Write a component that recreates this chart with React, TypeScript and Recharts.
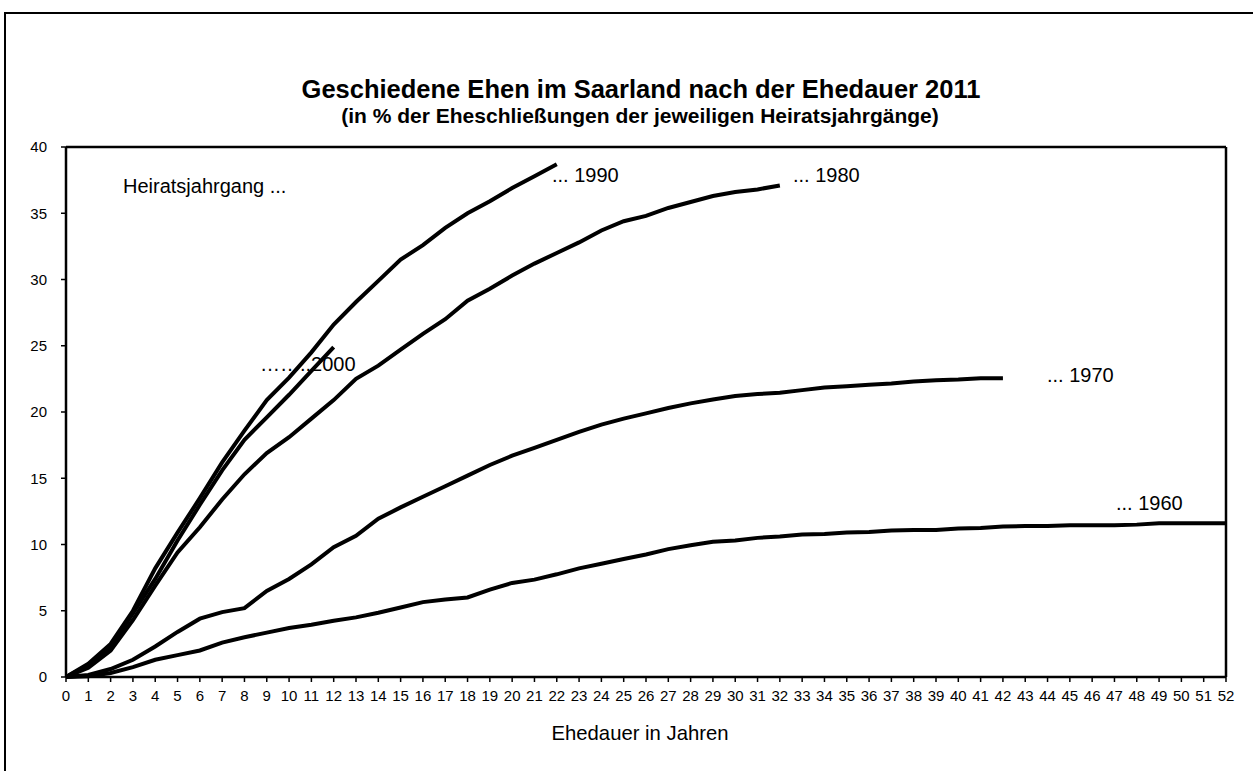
import React from 'react';
import { LineChart, Line, XAxis, YAxis, ReferenceLine } from 'recharts';

// Ehedauer in Jahren (x-Achse)
const durations = [
  0, 1, 2, 3, 4, 5, 6, 7, 8, 9, 10, 11, 12, 13, 14, 15, 16, 17, 18, 19, 20,
  21, 22, 23, 24, 25, 26, 27, 28, 29, 30, 31, 32, 33, 34, 35, 36, 37, 38, 39,
  40, 41, 42, 43, 44, 45, 46, 47, 48, 49, 50, 51, 52
];

// Geschiedene Ehen in % je Heiratsjahrgang
const cohort1960 = [
  0, 0.05, 0.3, 0.75, 1.3, 1.65, 2.0, 2.6, 3.0, 3.35,
  3.7, 3.95, 4.25, 4.5, 4.85, 5.25, 5.65, 5.85, 6.0, 6.6,
  7.1, 7.35, 7.75, 8.2, 8.55, 8.9, 9.25, 9.65, 9.95, 10.2,
  10.3, 10.5, 10.6, 10.75, 10.8, 10.9, 10.95, 11.05, 11.1, 11.1,
  11.2, 11.25, 11.35, 11.4, 11.4, 11.45, 11.45, 11.45, 11.5, 11.6,
  11.6, 11.6, 11.6
];
const cohort1970 = [
  0, 0.15, 0.6, 1.3, 2.3, 3.4, 4.4, 4.9, 5.2, 6.5,
  7.4, 8.5, 9.8, 10.65, 11.95, 12.8, 13.6, 14.4, 15.2, 16.0,
  16.7, 17.3, 17.9, 18.5, 19.05, 19.5, 19.9, 20.3, 20.65, 20.95,
  21.2, 21.35, 21.45, 21.65, 21.85, 21.95, 22.05, 22.15, 22.3, 22.4,
  22.45, 22.55, 22.55
];
const cohort1980 = [
  0, 0.7, 2.0, 4.3, 6.9, 9.4, 11.3, 13.4, 15.3, 16.9,
  18.1, 19.5, 20.9, 22.5, 23.5, 24.7, 25.9, 27.0, 28.4, 29.3,
  30.3, 31.2, 32.0, 32.8, 33.7, 34.4, 34.8, 35.4, 35.85, 36.3,
  36.6, 36.8, 37.1
];
const cohort1990 = [
  0, 1.0, 2.5, 5.0, 8.2, 10.9, 13.5, 16.2, 18.6, 20.9,
  22.6, 24.5, 26.6, 28.3, 29.9, 31.5, 32.6, 33.9, 35.0, 35.9,
  36.9, 37.8, 38.7
];
const cohort2000 = [
  0, 0.9, 2.3, 4.8, 7.4, 10.3, 13.0, 15.6, 17.9, 19.6, 21.3, 23.1, 24.9
];

const yTicks = [0, 5, 10, 15, 20, 25, 30, 35, 40];

const seriesList = [
  { key: 'j1960', values: cohort1960 },
  { key: 'j1970', values: cohort1970 },
  { key: 'j1980', values: cohort1980 },
  { key: 'j1990', values: cohort1990 },
  { key: 'j2000', values: cohort2000 }
];

// Zeilen für Recharts; Jahrgänge ohne Wert bleiben leer
const chartData = durations.map((d, i) => {
  const row: Record<string, number | null> = { dauer: d };
  seriesList.forEach(s => {
    row[s.key] = i < s.values.length ? s.values[i] : null;
  });
  return row;
});

const FONT = "'Liberation Sans', Arial, sans-serif";

export default function App() {
  return (
    <div
      style={{
        position: 'absolute',
        left: 0,
        top: 0,
        width: 1253,
        height: 771,
        overflow: 'hidden',
        background: '#fff',
        fontFamily: FONT
      }}
    >
      {/* äußerer Rahmen */}
      <div
        style={{
          position: 'absolute',
          left: 4,
          top: 12,
          width: 1270,
          height: 800,
          border: '2px solid #000',
          boxSizing: 'border-box'
        }}
      />

      <div style={{ position: 'absolute', left: 0, top: 0 }}>
        <LineChart
          width={1253}
          height={771}
          data={chartData}
          margin={{ top: 147, right: 27, bottom: 64, left: 6 }}
        >
          <XAxis
            dataKey="dauer"
            type="number"
            domain={[0, 52]}
            ticks={durations}
            interval={0}
            height={30}
            axisLine={{ stroke: '#000', strokeWidth: 2.5 }}
            tickLine={{ stroke: '#000', strokeWidth: 1.5 }}
            tickSize={5}
            tickMargin={8}
            tick={{ fill: '#000', fontSize: 15, fontFamily: FONT }}
          />
          <YAxis
            type="number"
            domain={[0, 40]}
            ticks={yTicks}
            interval={0}
            width={60}
            axisLine={{ stroke: '#000', strokeWidth: 2.5 }}
            tickLine={{ stroke: '#000', strokeWidth: 1.5 }}
            tickSize={5}
            tickMargin={14}
            tick={{ fill: '#000', fontSize: 15, fontFamily: FONT }}
          />
          <ReferenceLine y={40} stroke="#000" strokeWidth={2.5} />
          <ReferenceLine x={52} stroke="#000" strokeWidth={2.5} />
          {seriesList.map(s => (
            <Line
              key={s.key}
              dataKey={s.key}
              type="linear"
              stroke="#000"
              strokeWidth={4}
              dot={false}
              activeDot={false}
              isAnimationActive={false}
            />
          ))}
        </LineChart>
      </div>

      <svg
        width={1253}
        height={771}
        style={{ position: 'absolute', left: 0, top: 0, pointerEvents: 'none' }}
        fontFamily={FONT}
      >
        <text x={641} y={98} textAnchor="middle" fontSize={25.5} fontWeight="bold">
          Geschiedene Ehen im Saarland nach der Ehedauer 2011
        </text>
        <text x={640} y={123} textAnchor="middle" fontSize={21} fontWeight="bold">
          (in % der Eheschließungen der jeweiligen Heiratsjahrgänge)
        </text>
        <text x={640} y={740} textAnchor="middle" fontSize={20.3}>
          Ehedauer in Jahren
        </text>

        <text x={123} y={193} fontSize={20}>Heiratsjahrgang ...</text>
        <text x={552} y={182} fontSize={20}>... 1990</text>
        <text x={793} y={182} fontSize={20}>... 1980</text>
        <text x={260} y={371} fontSize={20}>……..2000</text>
        <text x={1047} y={382} fontSize={20}>... 1970</text>
        <text x={1116} y={510} fontSize={20}>... 1960</text>
      </svg>
    </div>
  );
}
